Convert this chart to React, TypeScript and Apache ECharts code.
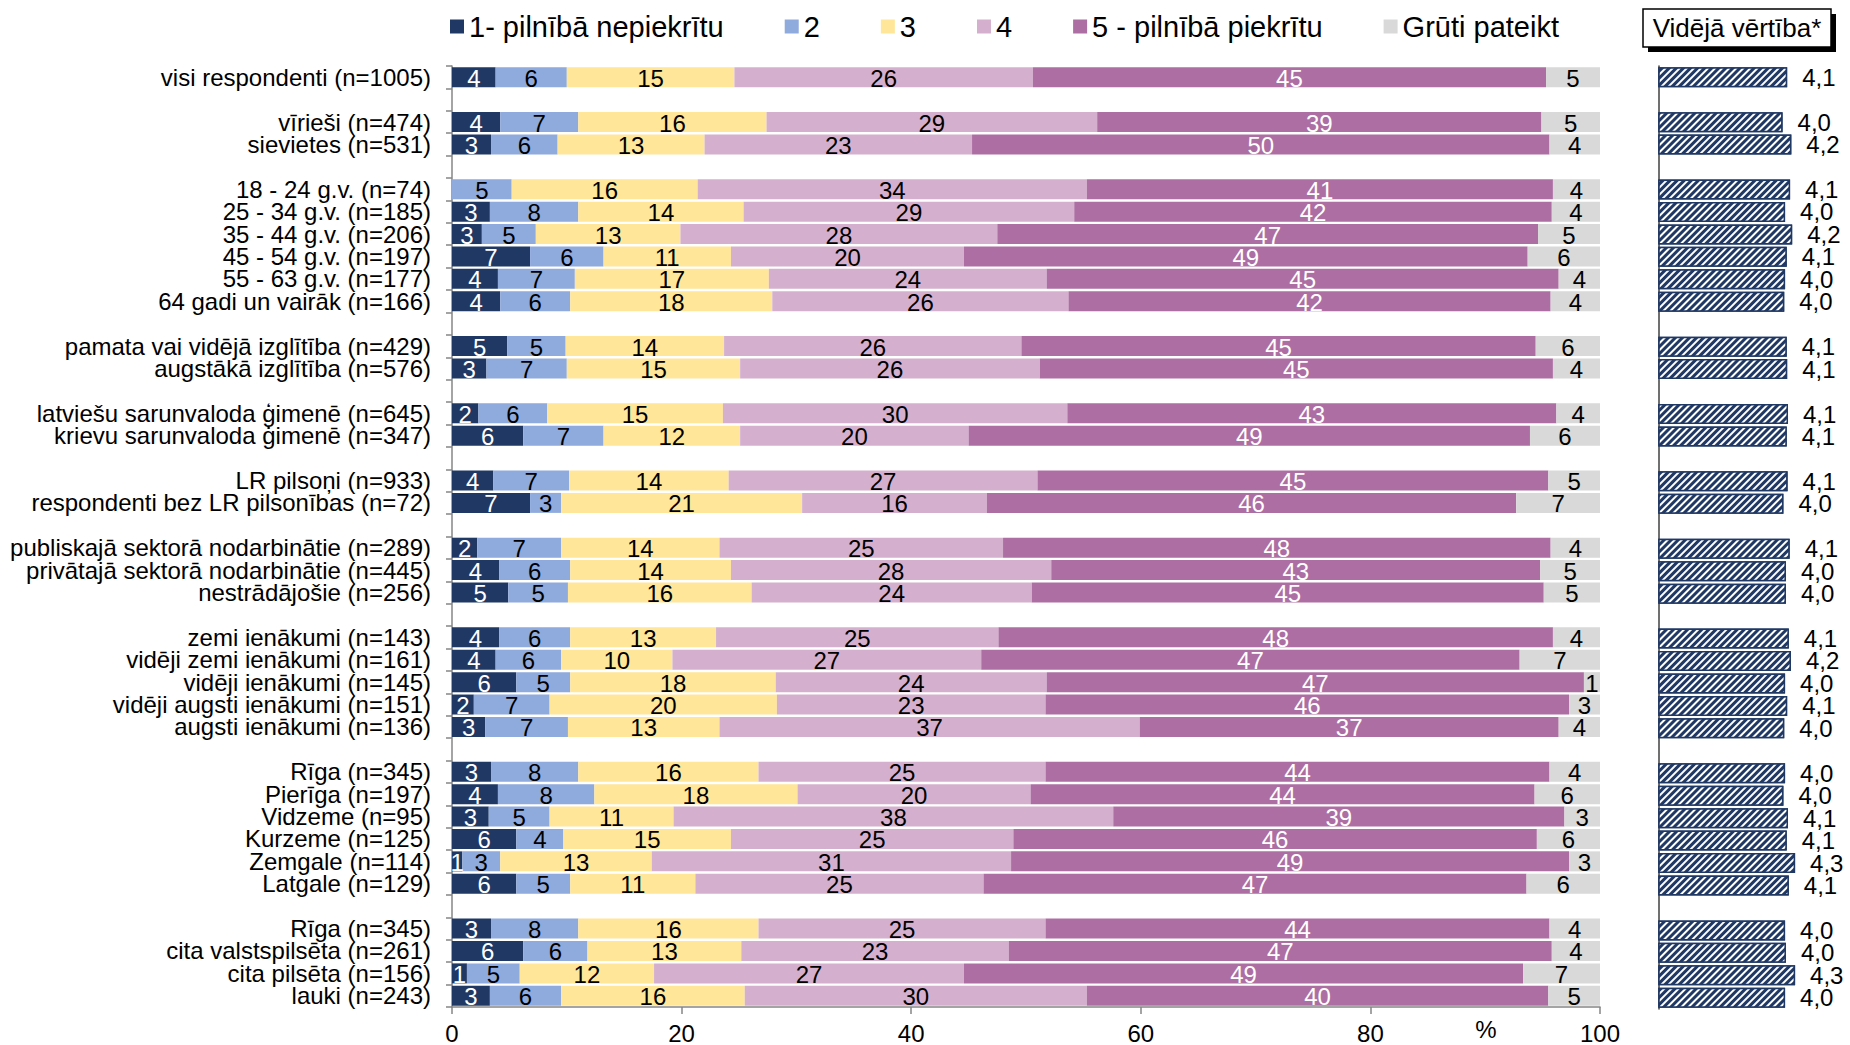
import React, { useEffect, useRef } from 'react';
import * as echarts from 'echarts';

const categories = [
  'visi respondenti (n=1005)', '',
  'vīrieši (n=474)', 'sievietes (n=531)', '',
  '18 - 24 g.v. (n=74)', '25 - 34 g.v. (n=185)', '35 - 44 g.v. (n=206)', '45 - 54 g.v. (n=197)', '55 - 63 g.v. (n=177)', '64 gadi un vairāk (n=166)', '',
  'pamata vai vidējā izglītība (n=429)', 'augstākā izglītība (n=576)', '',
  'latviešu sarunvaloda ģimenē (n=645)', 'krievu sarunvaloda ģimenē (n=347)', '',
  'LR pilsoņi (n=933)', 'respondenti bez LR pilsonības (n=72)', '',
  'publiskajā sektorā nodarbinātie (n=289)', 'privātajā sektorā nodarbinātie (n=445)', 'nestrādājošie (n=256)', '',
  'zemi ienākumi (n=143)', 'vidēji zemi ienākumi (n=161)', 'vidēji ienākumi (n=145)', 'vidēji augsti ienākumi (n=151)', 'augsti ienākumi (n=136)', '',
  'Rīga (n=345)', 'Pierīga (n=197)', 'Vidzeme (n=95)', 'Kurzeme (n=125)', 'Zemgale (n=114)', 'Latgale (n=129)', '',
  'Rīga (n=345)', 'cita valstspilsēta (n=261)', 'cita pilsēta (n=156)', 'lauki (n=243)',
];

const seriesNames = ['1- pilnībā nepiekrītu', '2', '3', '4', '5 - pilnībā piekrītu', 'Grūti pateikt'];

const s1 = [3.8, null, 4.2, 3.4, null, 0, 3.3, 2.6, 6.8, 4.0, 4.2, null, 4.8, 3.0, null, 2.3, 6.2, null, 3.6, 6.8, null, 2.2, 4.1, 4.9, null, 4.1, 3.8, 5.6, 1.9, 2.9, null, 3.4, 4.0, 3.2, 5.6, 0.9, 5.6, null, 3.4, 6.2, 1.3, 3.3];
const s2 = [6.2, null, 6.8, 5.8, null, 5.2, 7.7, 4.7, 6.4, 6.7, 6.1, null, 5.1, 7.0, null, 6.0, 7.0, null, 6.6, 2.7, null, 7.3, 6.2, 5.2, null, 6.2, 5.7, 4.7, 6.6, 7.2, null, 7.6, 8.4, 5.3, 4.1, 3.3, 4.7, null, 7.6, 5.6, 4.6, 6.2];
const s3 = [14.6, null, 16.4, 12.8, null, 16.2, 14.4, 12.6, 11.1, 16.9, 17.6, null, 13.8, 15.1, null, 15.3, 11.9, null, 13.9, 21.0, null, 13.8, 14.0, 16.0, null, 12.7, 9.7, 17.9, 19.8, 13.2, null, 15.7, 17.7, 10.8, 14.6, 13.2, 10.9, null, 15.7, 13.4, 11.7, 16.0];
const s4 = [26.0, null, 28.8, 23.3, null, 33.9, 28.8, 27.6, 20.3, 24.2, 25.8, null, 25.9, 26.1, null, 30.0, 19.9, null, 26.9, 16.1, null, 24.7, 27.9, 24.4, null, 24.6, 26.9, 23.6, 23.4, 36.6, null, 25.0, 20.3, 38.3, 24.6, 31.3, 25.1, null, 25.0, 23.3, 27.0, 29.8];
const s5 = [44.7, null, 38.7, 50.3, null, 40.6, 41.6, 47.1, 49.1, 44.6, 42.0, null, 44.8, 44.7, null, 42.6, 48.9, null, 44.5, 46.1, null, 47.7, 42.6, 44.6, null, 48.3, 46.9, 46.8, 45.6, 36.5, null, 43.9, 43.9, 39.3, 45.6, 48.6, 47.3, null, 43.9, 47.3, 48.7, 40.2];
const s6 = [4.7, null, 5.1, 4.4, null, 4.1, 4.2, 5.4, 6.3, 3.6, 4.3, null, 5.6, 4.1, null, 3.8, 6.1, null, 4.5, 7.3, null, 4.3, 5.2, 4.9, null, 4.1, 7.0, 1.4, 2.7, 3.6, null, 4.4, 5.7, 3.1, 5.5, 2.7, 6.4, null, 4.4, 4.2, 6.7, 4.5];

const meanValues = [4.07, null, 3.96, 4.17, null, 4.14, 4.02, 4.19, 4.06, 4.02, 4.00, null, 4.06, 4.07, null, 4.09, 4.06, null, 4.08, 3.98, null, 4.13, 4.04, 4.04, null, 4.11, 4.16, 4.02, 4.07, 4.00, null, 4.02, 3.98, 4.09, 4.06, 4.26, 4.11, null, 4.02, 4.04, 4.26, 4.02];

const xTicks = [0, 20, 40, 60, 80, 100];
const meanRange = [1, 5];

const colors = ['#203864', '#8FAADC', '#FFE699', '#D5B0CE', '#AD6EA3', '#D9D9D9'];
const labelColors = ['#ffffff', '#000000', '#000000', '#000000', '#ffffff', '#000000'];

export default function App() {
  const ref = useRef<HTMLDivElement>(null);
  useEffect(() => {
    const chart = echarts.init(ref.current as HTMLDivElement, undefined, { renderer: 'svg' });
    const font = "'Liberation Sans', Arial, sans-serif";
    const catIds = categories.map((_, i) => 'r' + i);
    const seriesData = [s1, s2, s3, s4, s5, s6];

    const mainSeries = seriesNames.map((name, k) => ({
      name,
      type: 'bar',
      stack: 'total',
      xAxisIndex: 0,
      yAxisIndex: 0,
      barWidth: 20,
      data: seriesData[k],
      itemStyle: { color: colors[k] },
      emphasis: { disabled: true },
      label: {
        show: true,
        position: 'inside',
        color: labelColors[k],
        fontSize: 24,
        lineHeight: 21,
        fontFamily: font,
        offset: [0, 1],
        formatter: (p: any) => (p.value == null || p.value === 0 ? '' : String(Math.round(p.value))),
      },
    }));

    const option: any = {
      animation: false,
      backgroundColor: '#ffffff',
      textStyle: { fontFamily: font },
      legend: {
        data: seriesNames,
        left: 445,
        top: 7,
        itemWidth: 14,
        itemHeight: 14,
        itemGap: 61,
        icon: 'rect',
        selectedMode: false,
        textStyle: { fontSize: 29, color: '#000', fontFamily: font },
      },
      grid: [
        { left: 452, top: 66, width: 1148, height: 943 },
        { left: 1659, top: 66, width: 167, height: 943 },
      ],
      xAxis: [
        {
          type: 'value',
          gridIndex: 0,
          min: xTicks[0],
          max: xTicks[xTicks.length - 1],
          interval: xTicks[1] - xTicks[0],
          axisLine: { show: true, lineStyle: { color: '#868686', width: 1.5 } },
          axisTick: { show: true, length: 7, lineStyle: { color: '#868686', width: 1.5 } },
          splitLine: { show: false },
          axisLabel: { fontSize: 24, color: '#000', margin: 14, fontFamily: font },
        },
        {
          type: 'value',
          gridIndex: 1,
          min: meanRange[0],
          max: meanRange[1],
          show: false,
        },
      ],
      yAxis: [
        {
          type: 'category',
          gridIndex: 0,
          data: catIds,
          inverse: true,
          axisLine: { show: true, lineStyle: { color: '#868686', width: 1.5 } },
          axisTick: { show: true, interval: 0, length: 6, lineStyle: { color: '#868686', width: 1.5 } },
          axisLabel: {
            interval: 0,
            margin: 21,
            fontSize: 24,
            lineHeight: 21,
            color: '#000',
            fontFamily: font,
            formatter: (_v: string, i: number) => categories[i],
          },
        },
        {
          type: 'category',
          gridIndex: 1,
          data: catIds,
          inverse: true,
          axisLine: { show: true, lineStyle: { color: '#404040', width: 1.5 } },
          axisTick: { show: false },
          axisLabel: { show: false },
        },
      ],
      series: [
        ...mainSeries,
        {
          name: 'Vidējā vērtība*',
          type: 'bar',
          xAxisIndex: 1,
          yAxisIndex: 1,
          barWidth: 20,
          data: meanValues,
          emphasis: { disabled: true },
          itemStyle: {
            color: '#203864',
            borderColor: '#203864',
            borderWidth: 1.5,
            decal: {
              symbol: 'rect',
              symbolSize: 1,
              color: '#ffffff',
              dashArrayX: [1, 0],
              dashArrayY: [2, 3],
              rotation: -Math.PI / 4,
            },
          },
          label: {
            show: true,
            position: 'right',
            distance: 15,
            fontSize: 24,
            lineHeight: 21,
            color: '#000',
            fontFamily: font,
            formatter: (p: any) => (p.value == null ? '' : Number(p.value).toFixed(1).replace('.', ',')),
          },
        },
      ],
      graphic: [
        { type: 'rect', shape: { x: 1648, y: 14, width: 188, height: 38 }, style: { fill: '#000' } },
        { type: 'rect', shape: { x: 1643, y: 9, width: 188, height: 38 }, style: { fill: '#fff', stroke: '#000', lineWidth: 1.5 } },
        {
          type: 'text',
          x: 1737,
          y: 28,
          style: { text: 'Vidējā vērtība*', fontSize: 26, fontFamily: font, fill: '#000', align: 'center', verticalAlign: 'middle' },
        },
        {
          type: 'text',
          x: 1486,
          y: 1029,
          style: { text: '%', fontSize: 24, fontFamily: font, fill: '#000', align: 'center', verticalAlign: 'middle' },
        },
      ],
    };
    chart.setOption(option);
    return () => chart.dispose();
  }, []);
  return (
    <div
      ref={ref}
      style={{ position: 'fixed', left: 0, top: 0, width: 1850, height: 1045, background: '#fff' }}
    />
  );
}
